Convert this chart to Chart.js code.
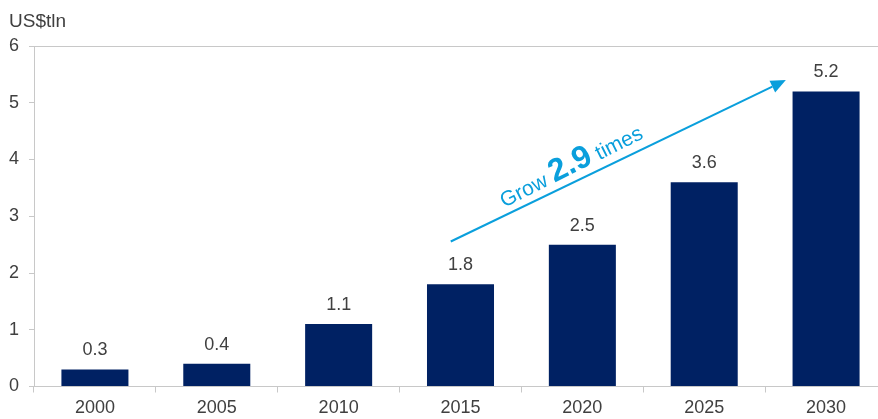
<!DOCTYPE html>
<html>
<head>
<meta charset="utf-8">
<script src="https://cdn.jsdelivr.net/npm/chart.js@4/dist/chart.umd.min.js"></script>
<style>
  html, body { margin: 0; padding: 0; background: #ffffff; }
  #wrap { width: 878px; height: 419px; overflow: hidden; position: relative; }
  canvas { display: block; }
</style>
</head>
<body>
<div id="wrap"><canvas id="chart" width="890" height="419"></canvas></div>
<script>
// Market size, US$ trillion
const years = ['2000', '2005', '2010', '2015', '2020', '2025', '2030'];
const marketSize = [0.3, 0.4, 1.1, 1.8, 2.5, 3.6, 5.2];
const yTicks = [0, 1, 2, 3, 4, 5, 6];
const unitLabel = 'US$tln';
const growthLabel = ['Grow ', '2.9', ' times'];

const FONT = '"Liberation Sans", Arial, Helvetica, sans-serif';
const TEXT = '#404040';
const AXIS = '#c8c8c8';
const NAVY = '#002163';
const BLUE = '#0a9fdc';

// value labels above each bar, the unit caption and the growth arrow
const overlay = {
  id: 'overlay',
  afterDatasetsDraw(chart) {
    const { ctx, scales: { x, y } } = chart;
    ctx.save();

    // values on top of the bars
    ctx.fillStyle = TEXT;
    ctx.font = '18px ' + FONT;
    ctx.textAlign = 'center';
    ctx.textBaseline = 'alphabetic';
    const meta = chart.getDatasetMeta(0);
    meta.data.forEach((bar, i) => {
      ctx.fillText(marketSize[i].toFixed(1), bar.x, bar.y - 14);
    });

    // unit caption
    ctx.textAlign = 'left';
    ctx.font = '19px ' + FONT;
    ctx.fillText(unitLabel, 9, 27);

    // growth arrow
    const x0 = x.getPixelForValue(2.92), y0 = y.getPixelForValue(2.555);
    const x1 = x.getPixelForValue(5.67), y1 = y.getPixelForValue(5.40);
    const ang = Math.atan2(y1 - y0, x1 - x0);
    const headLen = 15, headHalf = 6.5;
    const bx = x1 - headLen * Math.cos(ang), by = y1 - headLen * Math.sin(ang);
    ctx.strokeStyle = BLUE;
    ctx.fillStyle = BLUE;
    ctx.lineWidth = 2;
    ctx.beginPath();
    ctx.moveTo(x0, y0);
    ctx.lineTo(bx, by);
    ctx.stroke();
    ctx.beginPath();
    ctx.moveTo(x1, y1);
    ctx.lineTo(bx + headHalf * Math.sin(ang), by - headHalf * Math.cos(ang));
    ctx.lineTo(bx - headHalf * Math.sin(ang), by + headHalf * Math.cos(ang));
    ctx.closePath();
    ctx.fill();

    // "Grow 2.9 times" along the arrow
    const tx = x.getPixelForValue(3.36), ty = y.getPixelForValue(3.15);
    ctx.translate(tx, ty);
    ctx.rotate(ang - 0.015);
    ctx.textAlign = 'left';
    ctx.textBaseline = 'alphabetic';
    let cx = 0;
    ctx.font = '21px ' + FONT;
    ctx.fillText(growthLabel[0], cx, 0);
    cx += ctx.measureText(growthLabel[0]).width;
    ctx.font = 'bold 32px ' + FONT;
    ctx.fillText(growthLabel[1], cx, 0);
    cx += ctx.measureText(growthLabel[1]).width;
    ctx.font = '21px ' + FONT;
    ctx.fillText(growthLabel[2], cx, 0);

    ctx.restore();
  }
};

new Chart(document.getElementById('chart'), {
  type: 'bar',
  data: {
    labels: years,
    datasets: [{
      data: marketSize,
      backgroundColor: NAVY,
      borderWidth: 0,
      categoryPercentage: 1,
      barPercentage: 0.55
    }]
  },
  options: {
    responsive: false,
    animation: false,
    events: [],
    layout: { padding: { top: 46, right: 3, bottom: 0, left: 0 } },
    plugins: {
      legend: { display: false },
      tooltip: { enabled: false }
    },
    scales: {
      x: {
        offset: true,
        afterFit(scale) { scale.height = 32.5; },
        grid: {
          offset: true,
          drawOnChartArea: false,
          drawTicks: true,
          tickLength: 6,
          color: AXIS,
          tickColor: AXIS
        },
        border: { color: AXIS, width: 1 },
        ticks: {
          color: TEXT,
          padding: 5,
          font: { family: FONT, size: 18 },
          maxRotation: 0
        }
      },
      y: {
        min: yTicks[0],
        max: yTicks[yTicks.length - 1],
        afterBuildTicks(scale) {
          scale.ticks = yTicks.map(v => ({ value: v }));
        },
        afterFit(scale) { scale.width = 34; },
        grid: {
          drawTicks: true,
          tickLength: 5,
          color: (c) => (c.tick && c.tick.value === yTicks[yTicks.length - 1]) ? AXIS : 'rgba(0,0,0,0)',
          tickColor: AXIS
        },
        border: { color: AXIS, width: 1 },
        ticks: {
          color: TEXT,
          padding: 10,
          font: { family: FONT, size: 18 }
        }
      }
    }
  },
  plugins: [overlay]
});
</script>
</body>
</html>
